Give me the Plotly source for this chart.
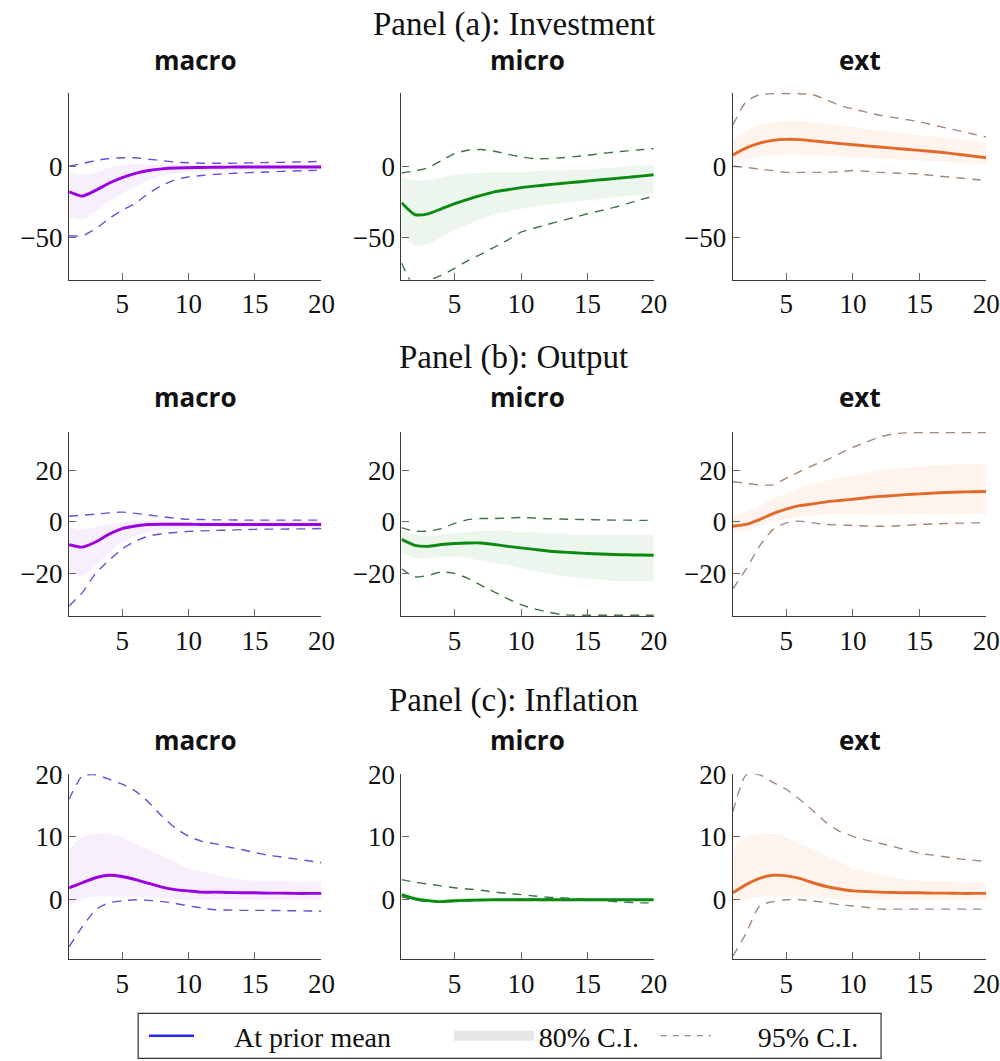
import plotly.graph_objects as go

periods = list(range(1, 21))

# ---------------- Panel (a): Investment ----------------
inv_macro_med = [-18, -21, -17, -12, -8, -5, -3, -1.8, -1.2, -1, -0.8, -0.7, -0.6, -0.5, -0.5, -0.5, -0.5, -0.5, -0.5, -0.5]
inv_macro_up95 = [0, 2, 4, 5.5, 6, 6, 5, 4, 3, 2.5, 2.2, 2.2, 2.2, 2.3, 2.5, 2.7, 2.8, 3, 3.2, 3.5]
inv_macro_lo95 = [-49, -49, -44, -37, -31, -26, -19, -13.5, -9.5, -7.5, -6.5, -5.7, -5.2, -4.7, -4.3, -4, -3.6, -3.3, -3, -2.8]
inv_macro_lo80 = [-36, -38, -32, -25, -19, -14, -10, -7, -5, -4, -3.5, -3, -3, -2.5, -2.5, -2.5, -2, -2, -2, -2]
inv_macro_up80 = [-4, -6, -4, -1, 1, 1.5, 1.5, 1.2, 1, 1, 1, 1, 1, 1, 1, 1, 1, 1, 1, 1]

inv_micro_med = [-25.7, -34, -33.5, -30, -26.4, -23.3, -20.5, -18, -16.5, -15, -14, -13, -12.1, -11.3, -10.4, -9.5, -8.7, -7.8, -6.9, -6]
inv_micro_up95 = [-4.7, -3.3, -1, 4, 9, 11.3, 11.8, 10.6, 8.5, 6.6, 5.4, 5.4, 6, 6.8, 7.8, 8.9, 10, 10.9, 11.7, 12.5]
inv_micro_lo95 = [-68, -85, -80.6, -77, -72, -66.5, -62, -57, -52, -46.5, -43.5, -41, -38.5, -36, -33.5, -31.3, -29, -26.3, -23.6, -21]
inv_micro_lo80 = [-48, -56, -55, -50, -45, -41, -37, -34, -32, -30, -28.5, -27, -26, -25, -24, -23, -22, -21, -20, -19]
inv_micro_up80 = [-8, -10, -10, -8, -6, -5, -4.5, -4, -4, -4, -3.5, -3, -3, -2.5, -2, -1.5, -1, 0, 0.5, 1]

inv_ext_med = [8, 13, 16.4, 18.3, 19, 18.8, 17.9, 17, 16.1, 15.2, 14.4, 13.6, 12.8, 12, 11.2, 10.4, 9.5, 8.3, 7.2, 6]
inv_ext_up95 = [29, 45.7, 50.5, 51.3, 51.3, 51.2, 50.5, 47, 43, 40.5, 38.2, 36, 34.5, 33, 31.4, 29.2, 27, 25, 22.8, 20.7]
inv_ext_lo95 = [0, -0.7, -2, -3, -4.3, -4.3, -4.3, -4.3, -3.8, -3, -3.5, -4.3, -4.7, -5.1, -5.5, -6.5, -7.4, -8.2, -9.1, -10]
inv_ext_lo80 = [2, 5, 7, 8, 8.5, 8.5, 8, 7.5, 7, 6.5, 6, 5.5, 5, 4.5, 4, 3.5, 3, 2.5, 2, 1.5]
inv_ext_up80 = [18, 25, 29, 31, 32, 32, 31, 30, 29, 28, 26.5, 25, 24, 23, 22, 21, 20, 19, 18, 17]

# ---------------- Panel (b): Output ----------------
out_macro_med = [-8.9, -9.8, -7.8, -4.8, -2.6, -1.6, -1, -0.9, -0.9, -0.9, -1, -1, -1, -1, -1, -1, -1, -1, -1, -1]
out_macro_up95 = [2.2, 2.6, 3, 3.5, 3.8, 3.3, 2.7, 2, 1.4, 1, 0.9, 0.8, 0.8, 0.7, 0.7, 0.7, 0.7, 0.7, 0.7, 0.7]
out_macro_lo95 = [-32.7, -27.5, -20, -15, -10.5, -7.5, -5.5, -4.6, -4.1, -3.7, -3.5, -3.3, -3.2, -3, -2.9, -2.8, -2.8, -2.7, -2.7, -2.6]
out_macro_lo80 = [-20, -21, -17, -12, -8, -5.5, -4, -3.3, -2.8, -2.5, -2.4, -2.3, -2.3, -2.3, -2.3, -2.3, -2.3, -2.3, -2.3, -2.3]
out_macro_up80 = [-2, -3, -2, -1, 0, 0.5, 0.5, 0.5, 0.3, 0.2, 0.2, 0.2, 0.2, 0.2, 0.2, 0.2, 0.2, 0.2, 0.2, 0.2]

out_micro_med = [-6.8, -9.1, -9.5, -8.8, -8.4, -8.2, -8.2, -8.8, -9.5, -10.1, -10.7, -11.3, -11.7, -12, -12.3, -12.5, -12.7, -12.8, -12.9, -13]
out_micro_up95 = [-2.2, -3.6, -3.6, -2.6, -0.6, 0.9, 1.3, 1.3, 1.5, 1.7, 1.5, 1.2, 1.1, 1, 0.9, 0.8, 0.7, 0.7, 0.6, 0.6]
out_micro_lo95 = [-18.2, -21.4, -20.8, -19.5, -20, -22, -24.7, -27.3, -29.9, -32.2, -33.8, -35, -36, -36.3, -36.3, -36.3, -36.3, -36.3, -36.3, -36.3]
out_micro_lo80 = [-12, -14, -14, -13.5, -13.5, -14, -15, -16, -17, -18, -19, -20, -21, -21.5, -22, -22.5, -23, -23, -23, -23]
out_micro_up80 = [-3, -5, -5.5, -5, -4.5, -4, -3.5, -3.5, -3.5, -4, -4, -4.5, -4.5, -5, -5, -5, -5, -5, -5, -5]

out_ext_med = [-1.7, -1, 0.9, 3.2, 5, 6.3, 7, 7.8, 8.3, 8.8, 9.4, 9.9, 10.2, 10.6, 10.9, 11.2, 11.4, 11.6, 11.7, 11.8]
out_ext_up95 = [15.6, 15, 14.4, 14.4, 17, 19.5, 22, 24, 26.5, 29, 31, 33, 34.2, 34.6, 34.7, 34.7, 34.7, 34.7, 34.7, 34.7]
out_ext_lo95 = [-26, -18.3, -9.4, -3, -0.4, 0.3, -0.4, -1, -1.2, -1.4, -1.6, -1.7, -1.6, -1.4, -1, -0.8, -0.6, -0.5, -0.4, -0.4]
out_ext_lo80 = [-4, -3, -1.5, 0, 1, 2, 2.5, 3, 3, 3, 3, 3, 3, 3, 3, 3, 3, 3, 3, 3]
out_ext_up80 = [2, 4, 6, 9, 11, 13, 14.5, 16, 17, 18, 19, 20, 20.5, 21, 21.5, 22, 22, 22.5, 22.5, 22.5]

# ---------------- Panel (c): Inflation ----------------
inf_macro_med = [1.9, 2.7, 3.5, 3.9, 3.7, 3.2, 2.6, 2.0, 1.6, 1.4, 1.2, 1.2, 1.15, 1.1, 1.1, 1.05, 1.05, 1.0, 1.0, 1.0]
inf_macro_up95 = [16, 19.7, 19.9, 19.2, 18.4, 17.3, 15.5, 13.3, 11.4, 10.1, 9.3, 8.9, 8.4, 8, 7.5, 7.1, 6.8, 6.5, 6.2, 5.9]
inf_macro_lo95 = [-7.5, -4.3, -1.6, -0.5, -0.2, 0, -0.1, -0.3, -0.6, -1, -1.3, -1.6, -1.65, -1.7, -1.7, -1.7, -1.75, -1.75, -1.8, -1.8]
inf_macro_lo80 = [-1, 0, 0.5, 0.5, 0.5, 0.5, 0.3, 0.2, 0, 0, 0, 0, 0, 0, 0, 0, 0, 0, 0, 0]
inf_macro_up80 = [8, 10, 10.5, 10.5, 10, 9, 8, 7, 6, 5, 4.5, 4, 3.5, 3.2, 3, 3, 3, 2.8, 2.8, 2.8]

inf_micro_med = [0.8, 0.15, -0.15, -0.3, -0.15, -0.1, -0.05, 0, 0, 0, 0, 0, 0, 0, 0, 0, 0, 0, 0, 0]
inf_micro_up95 = [3.2, 2.8, 2.5, 2.2, 1.9, 1.7, 1.5, 1.2, 1, 0.8, 0.6, 0.4, 0.3, 0.2, 0, -0.1, -0.3, -0.4, -0.5, -0.5]
inf_micro_lo95 = [0.5, 0, -0.3, -0.4, -0.3, -0.2, -0.1, 0, 0, 0.1, 0.1, 0.1, 0, 0, 0, 0, 0, 0, 0, 0]
inf_micro_lo80 = [0.3, -0.2, -0.5, -0.6, -0.5, -0.4, -0.3, -0.3, -0.3, -0.3, -0.3, -0.3, -0.3, -0.3, -0.3, -0.3, -0.3, -0.3, -0.3, -0.3]
inf_micro_up80 = [1.3, 0.6, 0.3, 0.1, 0.2, 0.3, 0.3, 0.3, 0.3, 0.3, 0.3, 0.3, 0.3, 0.3, 0.3, 0.3, 0.3, 0.3, 0.3, 0.3]

inf_ext_med = [1.1, 2.4, 3.4, 3.9, 3.8, 3.4, 2.7, 2.1, 1.7, 1.4, 1.3, 1.2, 1.15, 1.1, 1.1, 1.05, 1.05, 1.0, 1.0, 1.0]
inf_ext_up95 = [14, 19.9, 19.9, 18.7, 17.6, 16, 14.2, 12.3, 10.9, 10.1, 9.5, 9, 8.5, 7.9, 7.4, 7.1, 6.8, 6.5, 6.3, 6.1]
inf_ext_lo95 = [-9, -5.3, -1, -0.3, 0, 0, -0.2, -0.5, -0.8, -1, -1.2, -1.5, -1.5, -1.5, -1.5, -1.5, -1.5, -1.5, -1.5, -1.5]
inf_ext_lo80 = [-1, 0, 0.5, 0.5, 0.5, 0.5, 0.3, 0.2, 0, 0, 0, 0, 0, 0, 0, 0, 0, 0, 0, 0]
inf_ext_up80 = [8, 10, 10.5, 10.5, 10, 9, 8, 7, 6, 5, 4.5, 4, 3.5, 3.2, 3, 3, 3, 2.8, 2.8, 2.8]

panel_titles = ["Panel (a): Investment", "Panel (b): Output", "Panel (c): Inflation"]
column_titles = ["macro", "micro", "ext"]
legend_labels = ["At prior mean", "80% C.I.", "95% C.I."]
x_ticks = [5, 10, 15, 20]
row_ranges = [[-80, 52], [-36.6, 35], [-9.5, 20]]
row_ticks = [[-50, 0], [-20, 0, 20], [0, 10, 20]]

panels = [
    [(inv_macro_med, inv_macro_lo80, inv_macro_up80, inv_macro_lo95, inv_macro_up95),
     (inv_micro_med, inv_micro_lo80, inv_micro_up80, inv_micro_lo95, inv_micro_up95),
     (inv_ext_med, inv_ext_lo80, inv_ext_up80, inv_ext_lo95, inv_ext_up95)],
    [(out_macro_med, out_macro_lo80, out_macro_up80, out_macro_lo95, out_macro_up95),
     (out_micro_med, out_micro_lo80, out_micro_up80, out_micro_lo95, out_micro_up95),
     (out_ext_med, out_ext_lo80, out_ext_up80, out_ext_lo95, out_ext_up95)],
    [(inf_macro_med, inf_macro_lo80, inf_macro_up80, inf_macro_lo95, inf_macro_up95),
     (inf_micro_med, inf_micro_lo80, inf_micro_up80, inf_micro_lo95, inf_micro_up95),
     (inf_ext_med, inf_ext_lo80, inf_ext_up80, inf_ext_lo95, inf_ext_up95)],
]

line_colors = ["#9a00e0", "#0b8a12", "#e2692a"]
dash_colors = ["#6a4ed8", "#3f7346", "#a58878"]
band_colors = ["rgba(175,80,235,0.09)", "rgba(70,165,80,0.10)", "rgba(250,150,80,0.10)"]

# Figure size and a mapping from target-picture pixels to figure pixels
W, H = 1015, 1061
S, OY = 0.985, 15.5


def fx(px):
    return (px / S) / W


def fy(py):
    return 1 - ((py - OY) / S) / H


col_px = [(69, 321), (401, 653), (732, 985)]
row_px = [(93, 280), (432, 616), (774, 959)]
panel_title_y = [25, 358, 700]
col_title_y = [60, 397, 740]

tick_family = "Liberation Serif"
fig = go.Figure()
layout = {}
annotations = []

for r in range(3):
    for c in range(3):
        idx = r * 3 + c + 1
        xa = "x" if idx == 1 else f"x{idx}"
        ya = "y" if idx == 1 else f"y{idx}"
        med, lo80, up80, lo95, up95 = panels[r][c]
        common = dict(x=periods, xaxis=xa, yaxis=ya, showlegend=False, hoverinfo="skip")
        fig.add_trace(go.Scatter(y=lo80, mode="lines", line=dict(width=0, shape="spline", smoothing=0.6), **common))
        fig.add_trace(go.Scatter(y=up80, mode="lines", line=dict(width=0, shape="spline", smoothing=0.6),
                                 fill="tonexty", fillcolor=band_colors[c], **common))
        for band in (lo95, up95):
            fig.add_trace(go.Scatter(y=band, mode="lines",
                                     line=dict(color=dash_colors[c], width=1.4, dash="9px,7px", shape="spline", smoothing=0.6),
                                     **common))
        fig.add_trace(go.Scatter(y=med, mode="lines",
                                 line=dict(color=line_colors[c], width=2.9, shape="spline", smoothing=0.6), **common))

        x0, x1 = col_px[c]
        y0, y1 = row_px[r]
        axis_common = dict(showline=True, linecolor="#3a3a3a", linewidth=1.4, ticks="inside", ticklen=7,
                           tickcolor="#666", tickwidth=1.2, showgrid=False, zeroline=False,
                           tickfont=dict(family=tick_family, size=27, color="#111"))
        layout["xaxis" if idx == 1 else f"xaxis{idx}"] = dict(
            domain=[fx(x0), fx(x1)], range=[1, 20], tickvals=x_ticks, anchor=ya, **axis_common)
        layout["yaxis" if idx == 1 else f"yaxis{idx}"] = dict(
            domain=[fy(y1), fy(y0)], range=row_ranges[r], tickvals=row_ticks[r], anchor=xa, **axis_common)
        annotations.append(dict(text=f"<b>{column_titles[c]}</b>", x=fx((x0 + x1) / 2), y=fy(col_title_y[r]),
                                xref="paper", yref="paper", showarrow=False, xanchor="center", yanchor="middle",
                                font=dict(family="Open Sans", size=26, color="#111")))
    annotations.append(dict(text=panel_titles[r], x=fx(513), y=fy(panel_title_y[r]), xref="paper", yref="paper",
                            showarrow=False, xanchor="center", yanchor="middle",
                            font=dict(family="Liberation Serif", size=33, color="#111")))

# legend-only entries
nb = "\u00a0"
fig.add_trace(go.Scatter(x=[None], y=[None], mode="lines", name=nb * 5 + legend_labels[0],
                         line=dict(color="#2a2ae6", width=2.6), legend="legend"))
fig.add_trace(go.Scatter(x=[None], y=[None], mode="lines", name=legend_labels[1],
                         line=dict(width=16, color="rgba(200,200,200,0.45)"), legend="legend2"))
fig.add_trace(go.Scatter(x=[None], y=[None], mode="lines", name=nb * 6 + legend_labels[2],
                         line=dict(color="#888", width=1.3, dash="6px,6px"), legend="legend3"))

leg_font = dict(family="Liberation Serif", size=28, color="#111")
leg_common = dict(orientation="h", yanchor="middle", y=fy(1036), xanchor="left", bgcolor="rgba(0,0,0,0)",
                  font=leg_font, borderwidth=0)

fig.update_layout(
    width=W, height=H, margin=dict(l=0, r=0, t=0, b=0),
    paper_bgcolor="white", plot_bgcolor="white",
    annotations=annotations,
    legend=dict(x=146 / W, itemwidth=45, **leg_common),
    legend2=dict(x=455 / W, itemwidth=80, **leg_common),
    legend3=dict(x=665 / W, itemwidth=50, **leg_common),
    shapes=[dict(type="rect", xref="paper", yref="paper", x0=fx(138), x1=fx(880), y0=fy(1058), y1=fy(1013),
                 line=dict(color="#333", width=1.2), fillcolor="rgba(0,0,0,0)")],
    **layout,
)

fig.write_html(
    "out.html",
    config={"displayModeBar": False},
    post_script="var gd=document.getElementById('{plot_id}');gd.style.position='absolute';"
                "gd.style.left='0px';gd.style.top='0px';document.body.style.margin='0';"
                "document.body.style.overflow='hidden';",
)
